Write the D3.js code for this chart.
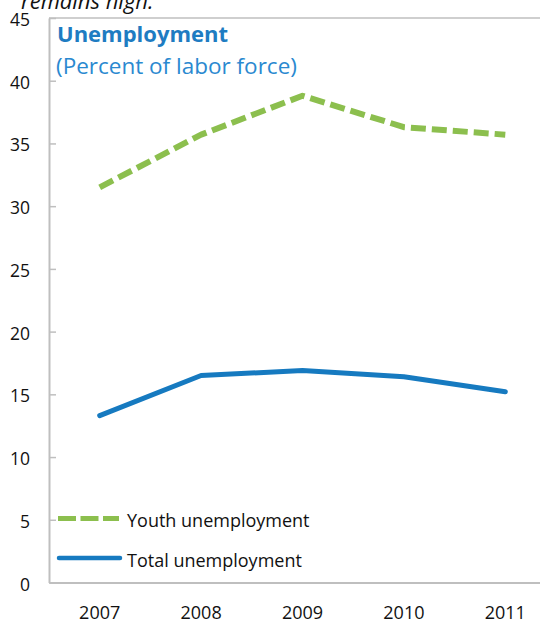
<!DOCTYPE html>
<html>
<head>
<meta charset="utf-8">
<script src="https://cdn.jsdelivr.net/npm/d3@7"></script>
<style>
  html, body { margin: 0; padding: 0; background: #fff; }
  svg { display: block; font-family: "Open Sans", sans-serif; }
</style>
</head>
<body>
<svg id="chart" width="540" height="621"></svg>
<script>
// Unemployment, percent of labor force
const years = ["2007", "2008", "2009", "2010", "2011"];
const youthUnemployment = [31.5, 35.7, 38.8, 36.3, 35.7];
const totalUnemployment = [13.3, 16.5, 16.9, 16.4, 15.2];
const yTicks = [0, 5, 10, 15, 20, 25, 30, 35, 40, 45];
const seriesNames = ["Youth unemployment", "Total unemployment"];

const svg = d3.select("#chart");
const plotLeft = 49, plotRight = 556, plotTop = 18, plotBottom = 582.5;

const x = d3.scaleBand().domain(years).range([plotLeft, plotRight]);
const y = d3.scaleLinear().domain([0, 45]).range([plotBottom, plotTop]);
const cx = d => x(d) + x.bandwidth() / 2;

const axisColor = "#bfbfbf";
const green = "#8cbf4e", blue = "#167ac0";

// frame: top edge of the panel
svg.append("line").attr("x1", plotLeft).attr("x2", plotRight).attr("y1", plotTop).attr("y2", plotTop)
  .attr("stroke", axisColor).attr("stroke-width", 1.5);

// y axis with inward ticks
const yAxis = svg.append("g").attr("transform", `translate(${plotLeft},0)`)
  .call(d3.axisRight(y).tickValues(yTicks).tickSize(7).tickSizeOuter(0).tickFormat(""));
yAxis.select(".domain").attr("stroke", axisColor).attr("stroke-width", 2);
yAxis.selectAll(".tick line").attr("stroke", axisColor).attr("stroke-width", 1.5);

svg.append("g").selectAll("text").data(yTicks).join("text")
  .attr("x", 30).attr("y", d => y(d) + 8)
  .attr("text-anchor", "end")
  .attr("font-size", 17.5).attr("fill", "#111")
  .text(d => d);

// x axis baseline and labels
const xAxis = svg.append("g").attr("transform", `translate(0,${plotBottom})`)
  .call(d3.axisBottom(x).tickSize(0).tickFormat(""));
xAxis.select(".domain").attr("stroke", axisColor).attr("stroke-width", 2);

svg.append("g").selectAll("text").data(years).join("text")
  .attr("x", d => cx(d)).attr("y", 619)
  .attr("text-anchor", "middle")
  .attr("font-size", 18).attr("fill", "#111")
  .text(d => d);

const line = d3.line().x((d, i) => cx(years[i])).y(d => y(d));

svg.append("path").datum(youthUnemployment)
  .attr("d", line).attr("fill", "none")
  .attr("stroke", green).attr("stroke-width", 6)
  .attr("stroke-dasharray", "15,6").attr("stroke-linejoin", "round");

svg.append("path").datum(totalUnemployment)
  .attr("d", line).attr("fill", "none")
  .attr("stroke", blue).attr("stroke-width", 5)
  .attr("stroke-linecap", "round").attr("stroke-linejoin", "round");

// titles
svg.append("text").attr("x", 57).attr("y", 42)
  .attr("font-size", 22).attr("font-weight", "bold").attr("fill", "#1e7cc2")
  .text("Unemployment");
svg.append("text").attr("x", 56).attr("y", 74)
  .attr("font-size", 22.5).attr("fill", "#2a89d0")
  .text("(Percent of labor force)");

// caption fragment above the panel
svg.append("text").attr("x", 21).attr("y", 9)
  .attr("font-size", 22).attr("font-style", "italic").attr("fill", "#111")
  .text("remains high.");

// legend
const legend = svg.append("g");
legend.append("line").attr("x1", 58).attr("x2", 119).attr("y1", 518.5).attr("y2", 518.5)
  .attr("stroke", green).attr("stroke-width", 5).attr("stroke-dasharray", "18,4.5");
legend.append("line").attr("x1", 59).attr("x2", 120).attr("y1", 558).attr("y2", 558)
  .attr("stroke", blue).attr("stroke-width", 4.5).attr("stroke-linecap", "round");
legend.selectAll("text").data(seriesNames).join("text")
  .attr("x", 127).attr("y", (d, i) => 527 + i * 40)
  .attr("font-size", 18).attr("fill", "#111")
  .text(d => d);
</script>
</body>
</html>
